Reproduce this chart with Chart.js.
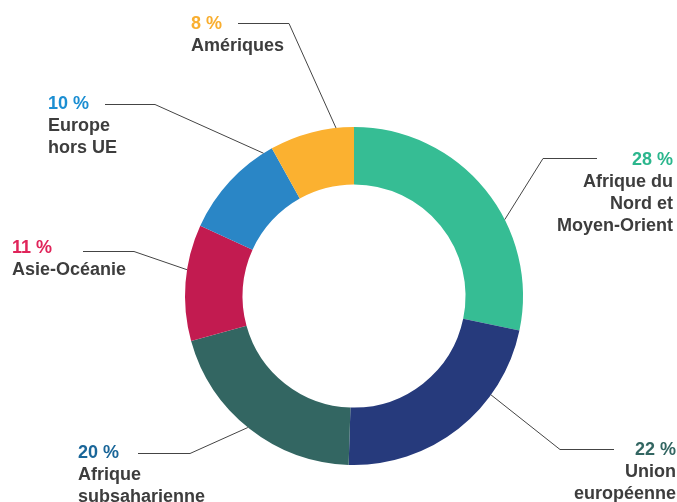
<!DOCTYPE html>
<html>
<head>
<meta charset="utf-8">
<script src="https://cdn.jsdelivr.net/npm/chart.js@4"></script>
<style>
  body { margin: 0; background: #fff; }
  #wrap { width: 677px; height: 502px; }
</style>
</head>
<body>
<div id="wrap"><canvas id="donut" width="677" height="502"></canvas></div>
<script>
// données
const categories = [
    ['Afrique du', 'Nord et', 'Moyen-Orient'],
    ['Union', 'européenne'],
    ['Afrique', 'subsaharienne'],
    ['Asie-Océanie'],
    ['Europe', 'hors UE'],
    ['Amériques']
];
const values = [28, 22, 20, 11, 10, 8];
const sliceColors = ['#36bd94', '#263a7c', '#336662', '#c21b50', '#2a86c6', '#fbb130'];
const pctColors = ['#2bb68d', '#336662', '#1a6699', '#e0245a', '#1b8ed2', '#f9ae2f'];

// placement des étiquettes (x texte, ligne de base, alignement, trait horizontal, point sur l'arc)
const labelLayout = [
    { x: 673, y: 165, align: 'right', hx: 597, ex: 543, ey: 158, frac: 0.62 },
    { x: 676, y: 455, align: 'right', hx: 614, ex: 560, ey: 449, frac: 0.30 },
    { x: 78,  y: 458, align: 'left',  hx: 138, ex: 190, ey: 453, frac: 0.51 },
    { x: 12,  y: 253, align: 'left',  hx: 83,  ex: 134, ey: 251, frac: 0.61 },
    { x: 48,  y: 109, align: 'left',  hx: 105, ex: 155, ey: 104, frac: 0.91 },
    { x: 191, y: 29,  align: 'left',  hx: 238, ex: 289, ey: 23,  frac: 0.79 }
];

const FONT = 'bold 18px "Liberation Sans", Arial, sans-serif';

const leaderLabels = {
    id: 'leaderLabels',
    afterDatasetsDraw(chart) {
        const ctx = chart.ctx;
        const arcs = chart.getDatasetMeta(0).data;
        ctx.save();
        for (let i = 0; i < arcs.length; i++) {
            const arc = arcs[i];
            const p = arc.getProps(['x', 'y', 'startAngle', 'endAngle', 'outerRadius'], true);
            const l = labelLayout[i];
            const a = p.startAngle + l.frac * (p.endAngle - p.startAngle);
            const px = p.x + p.outerRadius * Math.cos(a);
            const py = p.y + p.outerRadius * Math.sin(a);

            ctx.strokeStyle = '#444444';
            ctx.lineWidth = 1;
            ctx.beginPath();
            ctx.moveTo(l.hx, l.ey + 0.5);
            ctx.lineTo(l.ex, l.ey + 0.5);
            ctx.lineTo(px, py);
            ctx.stroke();

            ctx.font = FONT;
            ctx.textAlign = l.align;
            ctx.textBaseline = 'alphabetic';
            ctx.fillStyle = pctColors[i];
            ctx.fillText(values[i] + ' %', l.x, l.y);
            ctx.fillStyle = '#3d3d3d';
            categories[i].forEach(function(line, j) {
                ctx.fillText(line, l.x, l.y + 22 * (j + 1));
            });
        }
        ctx.restore();
    }
};

new Chart(document.getElementById('donut'), {
    type: 'doughnut',
    data: {
        labels: categories.map(c => c.join(' ')),
        datasets: [{
            data: values,
            backgroundColor: sliceColors,
            borderWidth: 0
        }]
    },
    options: {
        responsive: false,
        animation: false,
        cutout: '66%',
        layout: { padding: { top: 127, bottom: 37, left: 185, right: 154 } },
        plugins: {
            legend: { display: false },
            tooltip: { enabled: false }
        }
    },
    plugins: [leaderLabels]
});
</script>
</body>
</html>
